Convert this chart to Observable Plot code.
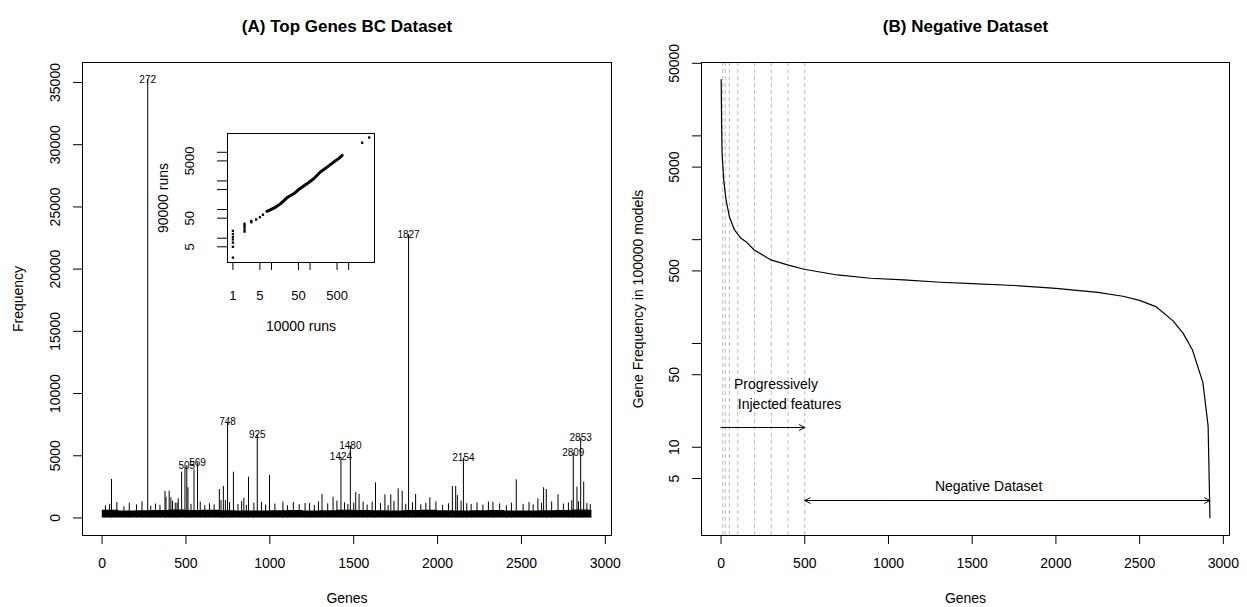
<!DOCTYPE html>
<html><head><meta charset="utf-8">
<script src="https://cdn.jsdelivr.net/npm/d3@7"></script>
<script src="https://cdn.jsdelivr.net/npm/@observablehq/plot@0.6"></script>
<style>
body{margin:0;background:#fff;}
#wrap{position:relative;width:1247px;height:607px;overflow:hidden;background:#fff;}
</style></head><body><div id="wrap"></div>
<script>
// ---------- Panel A data ----------
const topGenes = [272, 505, 569, 748, 925, 1424, 1480, 1827, 2154, 2809, 2853];
const topFreqs = [35240, 4200, 4400, 7700, 6690, 4890, 5770, 22780, 4810, 5210, 6410];
const spikeGenes = [56, 375, 381, 400, 410, 436, 454, 474, 494, 512, 548, 699, 709, 723, 783, 845, 873, 998, 1078, 1237, 1311, 1377, 1512, 1532, 1556, 1630, 1686, 1721, 1765, 1789, 1869, 1954, 2088, 2108, 2118, 2174, 2303, 2469, 2598, 2632, 2648, 2718, 2831, 2871];
const spikeFreqs = [3100, 2130, 1670, 2150, 1620, 1190, 1540, 3680, 4030, 2430, 3870, 2290, 1400, 2530, 3680, 1590, 3280, 3420, 1280, 1150, 1890, 1670, 2050, 1890, 1280, 2820, 1860, 1860, 2340, 2150, 1890, 1620, 2530, 2530, 1800, 1150, 1280, 3070, 1540, 2430, 2290, 1860, 2480, 2880];
const bristleGenes = [20,45,88,130,162,205,238,290,318,345,420,447,530,585,612,640,668,735,760,810,832,860,905,950,975,1030,1105,1140,1175,1210,1265,1290,1345,1400,1445,1465,1500,1580,1610,1660,1705,1740,1810,1850,1900,1930,1990,2030,2065,2140,2200,2235,2270,2330,2370,2410,2440,2510,2545,2570,2620,2680,2750,2780,2800,2840,2890,2910];
const bristleFreqs = [980,1100,1250,900,1180,1050,1300,950,1120,1020,1350,1200,1100,1280,990,1150,1060,1400,1230,1080,1310,1000,1190,1260,1050,1120,980,1240,1070,1160,1010,1290,1130,1360,1220,1080,1190,1040,1270,1150,1000,1330,1110,1220,1060,1180,1290,1020,1140,1350,1090,1210,1040,1260,1130,980,1190,1100,1240,1050,1170,1280,1120,1200,1390,1300,1160,1080];
const bandGenes = [1,100,200,300,400,500,600,700,800,900,1000,1100,1200,1300,1400,1500,1600,1700,1800,1900,2000,2100,2200,2300,2400,2500,2600,2700,2800,2900,2920];
const bandFreqs = [620,560,580,600,640,600,620,590,570,560,580,600,560,590,620,600,580,570,600,620,590,560,580,600,570,560,590,610,640,620,620];
const xTicks = [0, 500, 1000, 1500, 2000, 2500, 3000];
const yTicksA = [0, 5000, 10000, 15000, 20000, 25000, 30000, 35000];

// ---------- Inset data (10000 runs vs 90000 runs) ----------
const insetDotX = [1,1,1,1,1,1,1, 2,2,2,2,2, 3,3, 4, 5, 6, 2240, 3400];
const insetDotY = [2.1,5,7,9,11,14,18, 17,20,24,28,32, 36,40, 45, 54, 66, 21500, 32800];
const insetLineX = [7.6, 9.3, 12.6, 17, 25, 37.5, 50.6, 83, 124, 185, 276, 409, 550, 680];
const insetLineY = [87, 98, 120, 158, 257, 355, 500, 790, 1190, 2040, 3030, 4550, 6000, 7800];
const insetXTicks = [1, 5, 10, 50, 100, 500, 1000];
const insetXLabels = [1, 5, 50, 500];
const insetYTicks = [5, 10, 50, 100, 500, 1000, 5000, 10000];
const insetYLabels = [5, 50, 5000];

// ---------- Panel B data ----------
const rankGenes = [1, 3, 6, 16, 30, 50, 80, 119, 149, 198, 298, 397, 496, 694, 893, 1091, 1310, 1500, 1750, 2000, 2250, 2400, 2500, 2600, 2700, 2760, 2815, 2878, 2909, 2920];
const rankFreqs = [34800, 14000, 6800, 3750, 2400, 1660, 1240, 1030, 956, 795, 638, 571, 519, 457, 425, 409, 389, 378, 362, 340, 310, 285, 260, 225, 165, 125, 87, 42, 16, 2.1];
const injectGenes = [10, 25, 50, 100, 200, 300, 400, 500];
const yTicksB = [5, 10, 50, 100, 500, 1000, 5000, 10000, 50000];
const yLabelsB = [5, 10, 50, 500, 5000, 50000];

const FONT = '"Liberation Sans", Arial, Helvetica, sans-serif';
const baseStyle = {fontFamily: FONT, fontSize: "14px", background: "transparent", color: "black", overflow: "visible"};
const zip = (a, b) => a.map((g, i) => ({g, v: b[i]}));
const noText = () => "";

const wrap = document.getElementById("wrap");
function place(el, left, top) {
  el.style.position = "absolute";
  el.style.left = left + "px";
  el.style.top = top + "px";
  el.style.maxWidth = "none";
  wrap.appendChild(el);
}

// Panel A
const A = Plot.plot({
  width: 623, height: 607,
  marginLeft: 82, marginRight: 12, marginTop: 62, marginBottom: 72,
  style: baseStyle,
  x: {domain: [-116.76, 3036.76]},
  y: {domain: [-1408, 36606]},
  marks: [
    Plot.areaY(zip(bandGenes, bandFreqs), {x: "g", y: "v", curve: "step-after", fill: "black"}),
    Plot.ruleX(zip(bristleGenes, bristleFreqs), {x: "g", y1: 0, y2: "v", stroke: "black", strokeWidth: 1}),
    Plot.ruleX(zip(spikeGenes, spikeFreqs), {x: "g", y1: 0, y2: "v", stroke: "black", strokeWidth: 1}),
    Plot.ruleX(zip(topGenes, topFreqs), {x: "g", y1: 0, y2: "v", stroke: "black", strokeWidth: 1}),
    Plot.text(zip(topGenes, topFreqs), {x: "g", y: "v", text: d => String(d.g), fontSize: 10, textAnchor: "middle", lineAnchor: "middle"}),
    Plot.frame({stroke: "black"}),
    Plot.axisX(xTicks, {anchor: "bottom", tickSize: 9, tickFormat: noText, label: null}),
    Plot.axisY(yTicksA, {anchor: "left", tickSize: 9, tickFormat: noText, label: null}),
    Plot.text(xTicks, {x: d => d, frameAnchor: "bottom", dy: 28, text: d => String(d), fontSize: 14, textAnchor: "middle", lineAnchor: "middle"}),
    Plot.text(yTicksA, {y: d => d, frameAnchor: "left", dx: -27, rotate: -90, text: d => String(d), fontSize: 14, textAnchor: "middle", lineAnchor: "middle"}),
    Plot.text(["Genes"], {frameAnchor: "bottom", dy: 63, text: d => d, fontSize: 14, textAnchor: "middle", lineAnchor: "middle"}),
    Plot.text(["Frequency"], {frameAnchor: "left", dx: -64, rotate: -90, text: d => d, fontSize: 14, textAnchor: "middle", lineAnchor: "middle"}),
    Plot.text(["(A) Top Genes BC Dataset"], {frameAnchor: "top", dy: -36, text: d => d, fontSize: 17, fontWeight: "bold", textAnchor: "middle", lineAnchor: "middle"})
  ]
});
place(A, 0, 0);

// Inset
const I = Plot.plot({
  width: 250, height: 220,
  marginLeft: 87, marginRight: 16, marginTop: 13, marginBottom: 78,
  style: baseStyle,
  x: {type: "log", domain: [0.724, 4677]},
  y: {type: "log", domain: [1.416, 45300]},
  marks: [
    Plot.frame({stroke: "black"}),
    Plot.line(insetLineX.map((x, i) => ({x, y: insetLineY[i]})), {x: "x", y: "y", stroke: "black", strokeWidth: 3}),
    Plot.dot(insetDotX.map((x, i) => ({x, y: insetDotY[i]})), {x: "x", y: "y", symbol: "square", r: 1.3, fill: "black"}),
    Plot.axisX(insetXTicks, {anchor: "bottom", tickSize: 8, tickFormat: noText, label: null}),
    Plot.axisY(insetYTicks, {anchor: "left", tickSize: 10, tickFormat: noText, label: null}),
    Plot.text(insetXLabels, {x: d => d, frameAnchor: "bottom", dy: 33, text: d => String(d), fontSize: 13, textAnchor: "middle", lineAnchor: "middle"}),
    Plot.text(insetYLabels, {y: d => d, frameAnchor: "left", dx: -38, rotate: -90, text: d => String(d), fontSize: 13, textAnchor: "middle", lineAnchor: "middle"}),
    Plot.text(["10000 runs"], {frameAnchor: "bottom", dy: 64, text: d => d, fontSize: 14, textAnchor: "middle", lineAnchor: "middle"}),
    Plot.text(["90000 runs"], {frameAnchor: "left", dx: -64, rotate: -90, text: d => d, fontSize: 14, textAnchor: "middle", lineAnchor: "middle"})
  ]
});
place(I, 140, 120);

// Panel B
const B = Plot.plot({
  width: 624, height: 607,
  marginLeft: 78, marginRight: 18, marginTop: 62, marginBottom: 72,
  style: baseStyle,
  x: {domain: [-116.76, 3036.76]},
  y: {type: "log", domain: [1.413, 50900]},
  marks: [
    Plot.ruleX(injectGenes, {x: d => d, stroke: "#bdbdbd", strokeDasharray: "4,3", strokeWidth: 1}),
    Plot.line(zip(rankGenes, rankFreqs), {x: "g", y: "v", stroke: "black", strokeWidth: 1.2}),
    Plot.arrow([{a: 0, b: 500, y: 15.5}], {x1: "a", x2: "b", y1: "y", y2: "y", stroke: "black", strokeWidth: 1, headLength: 9, headAngle: 55}),
    Plot.arrow([{a: 2000, b: 500, y: 3.07}, {a: 1000, b: 2920, y: 3.07}], {x1: "a", x2: "b", y1: "y", y2: "y", stroke: "black", strokeWidth: 1, headLength: 9, headAngle: 55}),
    Plot.text(["Progressively\n Injected features"], {x: 77, y: 33.6, text: d => d, fontSize: 14, textAnchor: "start", lineAnchor: "middle", lineHeight: 1.43}),
    Plot.text(["Negative Dataset"], {x: 1598, y: 4.2, text: d => d, fontSize: 14, textAnchor: "middle", lineAnchor: "middle"}),
    Plot.frame({stroke: "black"}),
    Plot.axisX(xTicks, {anchor: "bottom", tickSize: 9, tickFormat: noText, label: null}),
    Plot.axisY(yTicksB, {anchor: "left", tickSize: 9, tickFormat: noText, label: null}),
    Plot.text(xTicks, {x: d => d, frameAnchor: "bottom", dy: 28, text: d => String(d), fontSize: 14, textAnchor: "middle", lineAnchor: "middle"}),
    Plot.text(yLabelsB, {y: d => d, frameAnchor: "left", dx: -27, rotate: -90, text: d => String(d), fontSize: 14, textAnchor: "middle", lineAnchor: "middle"}),
    Plot.text(["Genes"], {frameAnchor: "bottom", dy: 63, text: d => d, fontSize: 14, textAnchor: "middle", lineAnchor: "middle"}),
    Plot.text(["Gene Frequency in 100000 models"], {frameAnchor: "left", dx: -63, rotate: -90, text: d => d, fontSize: 14, textAnchor: "middle", lineAnchor: "middle"}),
    Plot.text(["(B) Negative Dataset"], {frameAnchor: "top", dy: -36, text: d => d, fontSize: 17, fontWeight: "bold", textAnchor: "middle", lineAnchor: "middle"})
  ]
});
place(B, 623, 0);
</script>
</body></html>
